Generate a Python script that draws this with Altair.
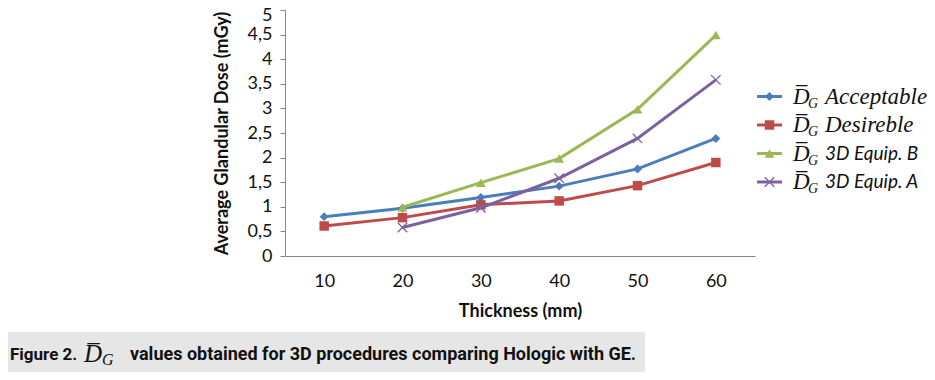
import altair as alt
import pandas as pd

thickness = [10, 20, 30, 40, 50, 60]
series_names = ["Acceptable", "Desireble", "3D Equip. B", "3D Equip. A"]
acceptable = [0.80, 0.97, 1.19, 1.42, 1.77, 2.39]
desireble = [0.61, 0.78, 1.04, 1.12, 1.43, 1.90]
equip_b = [None, 0.99, 1.49, 1.98, 2.98, 4.49]
equip_a = [None, 0.58, 0.98, 1.58, 2.39, 3.58]
series_values = [acceptable, desireble, equip_b, equip_a]
colors = ["#4A7EBB", "#BE4B48", "#98B954", "#7D60A0"]
y_ticks = [0, 0.5, 1, 1.5, 2, 2.5, 3, 3.5, 4, 4.5, 5]
x_title = "Thickness (mm)"
y_title = "Average Glandular Dose (mGy)"
caption_fig = "Figure 2."
caption_rest = "values obtained for 3D procedures comparing Hologic with GE."

rows = []
for name, vals in zip(series_names, series_values):
    for t, v in zip(thickness, vals):
        if v is not None:
            rows.append({"series": name, "thickness": t, "dose": v})
df = pd.DataFrame(rows)
legend_df = pd.DataFrame({"series": series_names})

X_CROSS = "M-1,-1L1,1M1,-1L-1,1"
marker_styles = [
    dict(shape="diamond", filled=True, size=80),
    dict(shape="square", filled=True, size=90),
    dict(shape="triangle-up", filled=True, size=95),
    dict(shape=X_CROSS, filled=False, size=90, strokeWidth=1.3),
]

GRAY = "#868686"
TXT = "#111111"

x_enc = alt.X(
    "thickness:O",
    sort=thickness,
    scale=alt.Scale(type="point", padding=0.5),
    axis=alt.Axis(
        title=x_title, labelAngle=0, ticks=False, grid=False, domainColor=GRAY,
        labelFont="Lato", labelFontSize=18, labelColor=TXT, labelPadding=16,
        titleFont="Lato", titleFontSize=18, titleFontWeight="bold", titleColor=TXT,
        titlePadding=12,
    ),
)

y_axis = alt.Axis(
    orient="left", values=y_ticks, grid=False, domainColor=GRAY, tickColor=GRAY,
    tickSize=5, labelFont="Lato", labelFontSize=18, labelColor=TXT,
    labelPadding=8, labelOverlap=False, labelBound=False, labelFlush=False,
    labelExpr="replace(format(datum.value, '~g'), '.', ',')",
    labelOffset={"condition": {"test": "datum.value >= 5", "value": 5}, "value": 0},
    title=y_title, titleFont="Lato", titleFontSize=18, titleFontWeight="bold",
    titleColor=TXT, titlePadding=16,
)
y_scale = alt.Scale(domain=[0, 5])

layers = []
for i, (name, col, ms) in enumerate(zip(series_names, colors, marker_styles)):
    b = alt.Chart(df).transform_filter(alt.datum.series == name)
    layers.append(
        b.mark_line(color=col, strokeWidth=3).encode(
            x=x_enc, y=alt.Y("dose:Q", scale=y_scale, axis=y_axis if i == 0 else None))
    )
    layers.append(
        b.mark_point(color=col, opacity=1, **ms).encode(
            x=x_enc, y=alt.Y("dose:Q", scale=y_scale, axis=None))
    )

leg_scale = alt.Scale(type="point", domain=series_names, range=[86.5, 172], padding=0)
leg_y = alt.Y("series:N", scale=leg_scale, axis=None)
name_fonts = [
    dict(font="Liberation Serif", fontSize=23),
    dict(font="Liberation Serif", fontSize=23),
    dict(font="Lato", fontSize=19),
    dict(font="Lato", fontSize=19),
]
for name, col, ms, nf in zip(series_names, colors, marker_styles, name_fonts):
    lb = alt.Chart(legend_df).transform_filter(alt.datum.series == name)
    layers.append(
        lb.mark_rule(color=col, strokeWidth=3).encode(
            x=alt.value(472), x2=alt.value(497), y=leg_y)
    )
    layers.append(
        lb.mark_point(color=col, opacity=1, **ms).encode(x=alt.value(484.5), y=leg_y)
    )
    layers.append(
        lb.mark_text(text="D\u0305", font="Liberation Serif", fontStyle="italic",
                     fontSize=23, align="left", baseline="middle", color=TXT)
        .encode(x=alt.value(508), y=leg_y)
    )
    layers.append(
        lb.mark_text(text="G", font="Liberation Serif", fontStyle="italic",
                     fontSize=14, align="left", baseline="middle", dy=7, color=TXT)
        .encode(x=alt.value(523), y=leg_y)
    )
    layers.append(
        lb.mark_text(fontStyle="italic", align="left", baseline="middle",
                     color=TXT, **nf)
        .encode(x=alt.value(540), y=leg_y, text="series:N")
    )

cap_df = pd.DataFrame({"a": [caption_fig], "b": [caption_rest]})
cap = alt.Chart(cap_df)
layers += [
    cap.mark_rect(color="#E6E6E6").encode(
        x=alt.value(-277), x2=alt.value(360), y=alt.value(322), y2=alt.value(364)),
    cap.mark_text(font="Roboto", fontWeight="bold", fontSize=17, align="left",
                  baseline="middle", color=TXT).encode(
        x=alt.value(-275), y=alt.value(345), text="a:N"),
    cap.mark_text(text="D\u0305", font="Liberation Serif", fontStyle="italic", fontSize=25,
                  align="left", baseline="middle", color=TXT).encode(
        x=alt.value(-201), y=alt.value(344)),
    cap.mark_text(text="G", font="Liberation Serif", fontStyle="italic", fontSize=16,
                  align="left", baseline="middle", dy=5, color=TXT).encode(
        x=alt.value(-183), y=alt.value(345)),
    cap.mark_text(font="Roboto", fontWeight="bold", fontSize=18, align="left",
                  baseline="middle", color=TXT).encode(
        x=alt.value(-155), y=alt.value(345), text="b:N"),
]

chart = (
    alt.layer(*layers)
    .resolve_scale(y="independent")
    .properties(
        width=470, height=246, autosize="none", background="white",
        padding={"left": 277, "top": 2, "right": 172, "bottom": 116},
    )
    .configure_view(stroke="transparent", strokeWidth=0)
)

chart.save("out.html", embed_options={"renderer": "svg", "actions": False})
